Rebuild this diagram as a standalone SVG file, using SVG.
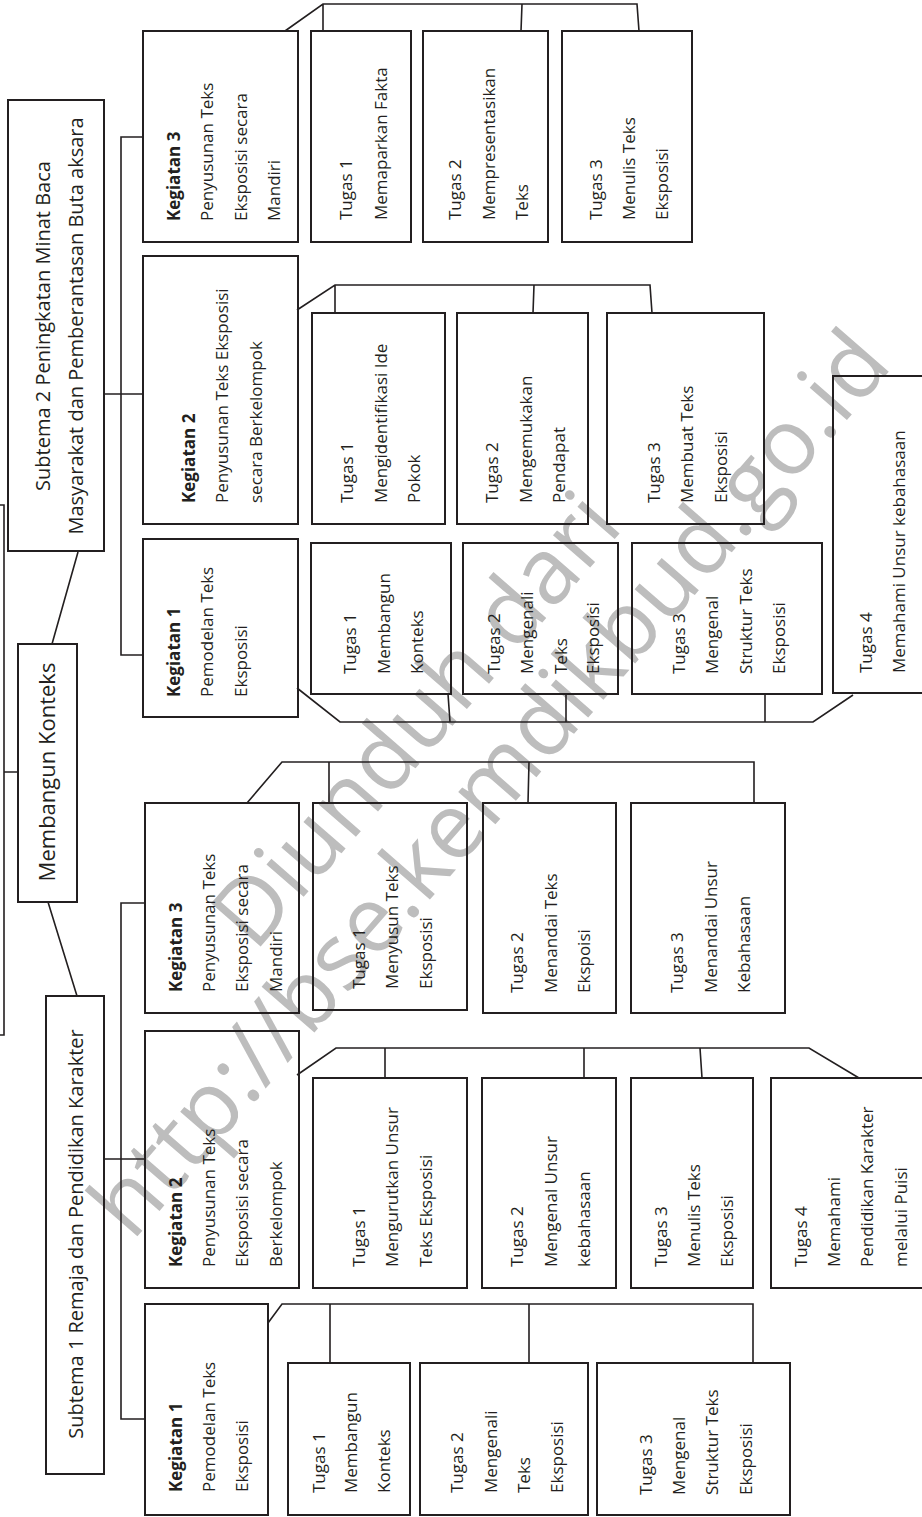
<svg xmlns="http://www.w3.org/2000/svg" width="922" height="1517" viewBox="0 0 922 1517">
<style>
.b{fill:none;stroke:#231f20;stroke-width:2}
.c{fill:none;stroke:#231f20;stroke-width:1.6}
text{font-family:"Open Sans","Noto Sans","Liberation Sans",sans-serif;fill:#231f20}
.t{font-size:17px}
.k{font-weight:bold}
.s{font-size:20px}
.m{font-size:22px}
.w{font-size:92px;fill:#bdbdbd;text-anchor:middle}
</style>
<rect width="922" height="1517" fill="#fff"/>
<g id="watermark" transform="translate(513,804) rotate(-49)">
<text class="w" x="0" y="-97">Diunduh dari</text>
<text class="w" x="0" y="0">http://bse.kemdikbud.go.id</text>
</g>
<g id="connectors">
<path class="c" d="M0,505 H4 V1035 H0 M4,772 H18"/>
<path class="c" d="M78,552 L52,644 M48,902 L77,996"/>
<path class="c" d="M143,137 H121 V655 H143 M104,394 H143"/>
<path class="c" d="M145,903 H121 V1419 H145 M104,1159 H145"/>
<path class="c" d="M285,31 L323,4 H637 L639,31 M323,4 V31 M522,4 L521,31"/>
<path class="c" d="M297,310 L335,285 H650 L652,313 M335,285 V313 M534,285 L533,313"/>
<path class="c" d="M297,688 L340,722 H813 L853,695 M448,694 L450,722 M566,694 V722 M765,694 V722"/>
<path class="c" d="M247,803 L282,762 H754 V803 M329,762 V803 M529,762 L528,803"/>
<path class="c" d="M297,1075 L336,1048 H809 L859,1078 M385,1048 V1078 M584,1048 V1078 M700,1048 L702,1078"/>
<path class="c" d="M268,1323 L282,1304 H753 V1363 M330,1304 V1363 M529,1304 V1363"/>
</g>
<g id="subtema2">
<rect class="b" x="8" y="100" width="96" height="451"/>
<text class="s" text-anchor="middle" transform="translate(50,326) rotate(-90)"><tspan x="0" y="0">Subtema 2 Peningkatan Minat Baca</tspan><tspan x="0" y="33">Masyarakat dan Pemberantasan Buta aksara</tspan></text>
</g>
<g id="membangun">
<rect class="b" x="18" y="644" width="59" height="258"/>
<text class="m" text-anchor="middle" transform="translate(55,772) rotate(-90)">Membangun Konteks</text>
</g>
<g id="subtema1">
<rect class="b" x="46" y="996" width="58" height="478"/>
<text class="s" text-anchor="middle" transform="translate(83,1234) rotate(-90)">Subtema 1 Remaja dan Pendidikan Karakter</text>
</g>
<g id="s2k3">
<rect class="b" x="143" y="31" width="155" height="211"/>
<text class="t" transform="translate(180,221) rotate(-90)"><tspan class="k" x="0" y="0">Kegiatan 3</tspan><tspan x="0" y="33">Penyusunan Teks</tspan><tspan x="0" y="67">Eksposisi secara</tspan><tspan x="0" y="100">Mandiri</tspan></text>
</g>
<g id="s2k2">
<rect class="b" x="143" y="256" width="155" height="268"/>
<text class="t" transform="translate(195,503) rotate(-90)"><tspan class="k" x="0" y="0">Kegiatan 2</tspan><tspan x="0" y="33">Penyusunan Teks Eksposisi</tspan><tspan x="0" y="67">secara Berkelompok</tspan></text>
</g>
<g id="s2k1">
<rect class="b" x="143" y="539" width="155" height="178"/>
<text class="t" transform="translate(180,697) rotate(-90)"><tspan class="k" x="0" y="0">Kegiatan 1</tspan><tspan x="0" y="33">Pemodelan Teks</tspan><tspan x="0" y="67">Eksposisi</tspan></text>
</g>
<g id="s2k3t1">
<rect class="b" x="311" y="31" width="100" height="211"/>
<text class="t" transform="translate(352,220) rotate(-90)"><tspan x="0" y="0">Tugas 1</tspan><tspan x="0" y="35">Memaparkan Fakta</tspan></text>
</g>
<g id="s2k3t2">
<rect class="b" x="423" y="31" width="125" height="211"/>
<text class="t" transform="translate(461,220) rotate(-90)"><tspan x="0" y="0">Tugas 2</tspan><tspan x="0" y="34">Mempresentasikan</tspan><tspan x="0" y="67">Teks</tspan></text>
</g>
<g id="s2k3t3">
<rect class="b" x="562" y="31" width="130" height="211"/>
<text class="t" transform="translate(602,220) rotate(-90)"><tspan x="0" y="0">Tugas 3</tspan><tspan x="0" y="33">Menulis Teks</tspan><tspan x="0" y="66">Eksposisi</tspan></text>
</g>
<g id="s2k2t1">
<rect class="b" x="312" y="313" width="133" height="211"/>
<text class="t" transform="translate(353,503) rotate(-90)"><tspan x="0" y="0">Tugas 1</tspan><tspan x="0" y="34">Mengidentifikasi Ide</tspan><tspan x="0" y="67">Pokok</tspan></text>
</g>
<g id="s2k2t2">
<rect class="b" x="457" y="313" width="131" height="211"/>
<text class="t" transform="translate(498,503) rotate(-90)"><tspan x="0" y="0">Tugas 2</tspan><tspan x="0" y="34">Mengemukakan</tspan><tspan x="0" y="67">Pendapat</tspan></text>
</g>
<g id="s2k2t3">
<rect class="b" x="607" y="313" width="157" height="211"/>
<text class="t" transform="translate(660,503) rotate(-90)"><tspan x="0" y="0">Tugas 3</tspan><tspan x="0" y="33">Membuat Teks</tspan><tspan x="0" y="67">Eksposisi</tspan></text>
</g>
<g id="s2k1t1">
<rect class="b" x="311" y="543" width="140" height="151"/>
<text class="t" transform="translate(356,674) rotate(-90)"><tspan x="0" y="0">Tugas 1</tspan><tspan x="0" y="34">Membangun</tspan><tspan x="0" y="67">Konteks</tspan></text>
</g>
<g id="s2k1t2">
<rect class="b" x="463" y="543" width="155" height="151"/>
<text class="t" transform="translate(500,674) rotate(-90)"><tspan x="0" y="0">Tugas 2</tspan><tspan x="0" y="33">Mengenali</tspan><tspan x="0" y="67">Teks</tspan><tspan x="0" y="99">Eksposisi</tspan></text>
</g>
<g id="s2k1t3">
<rect class="b" x="632" y="543" width="190" height="151"/>
<text class="t" transform="translate(685,674) rotate(-90)"><tspan x="0" y="0">Tugas 3</tspan><tspan x="0" y="33">Mengenal</tspan><tspan x="0" y="67">Struktur Teks</tspan><tspan x="0" y="100">Eksposisi</tspan></text>
</g>
<g id="s2k1t4">
<rect class="b" x="833" y="376" width="100" height="317"/>
<text class="t" transform="translate(872,673) rotate(-90)"><tspan x="0" y="0">Tugas 4</tspan><tspan x="0" y="33">Memahami Unsur kebahasaan</tspan></text>
</g>
<g id="s1k3">
<rect class="b" x="145" y="803" width="154" height="210"/>
<text class="t" transform="translate(182,992) rotate(-90)"><tspan class="k" x="0" y="0">Kegiatan 3</tspan><tspan x="0" y="33">Penyusunan Teks</tspan><tspan x="0" y="66">Eksposisi secara</tspan><tspan x="0" y="100">Mandiri</tspan></text>
</g>
<g id="s1k2">
<rect class="b" x="145" y="1031" width="154" height="257"/>
<text class="t" transform="translate(182,1267) rotate(-90)"><tspan class="k" x="0" y="0">Kegiatan 2</tspan><tspan x="0" y="33">Penyusunan Teks</tspan><tspan x="0" y="66">Eksposisi secara</tspan><tspan x="0" y="100">Berkelompok</tspan></text>
</g>
<g id="s1k1">
<rect class="b" x="145" y="1304" width="123" height="211"/>
<text class="t" transform="translate(182,1492) rotate(-90)"><tspan class="k" x="0" y="0">Kegiatan 1</tspan><tspan x="0" y="33">Pemodelan Teks</tspan><tspan x="0" y="66">Eksposisi</tspan></text>
</g>
<g id="s1k3t1">
<rect class="b" x="313" y="803" width="154" height="207"/>
<text class="t" transform="translate(365,989) rotate(-90)"><tspan x="0" y="0">Tugas 1</tspan><tspan x="0" y="33">Menyusun Teks</tspan><tspan x="0" y="67">Eksposisi</tspan></text>
</g>
<g id="s1k3t2">
<rect class="b" x="483" y="803" width="133" height="210"/>
<text class="t" transform="translate(523,993) rotate(-90)"><tspan x="0" y="0">Tugas 2</tspan><tspan x="0" y="34">Menandai Teks</tspan><tspan x="0" y="67">Ekspoisi</tspan></text>
</g>
<g id="s1k3t3">
<rect class="b" x="631" y="803" width="154" height="210"/>
<text class="t" transform="translate(683,993) rotate(-90)"><tspan x="0" y="0">Tugas 3</tspan><tspan x="0" y="34">Menandai Unsur</tspan><tspan x="0" y="67">Kebahasaan</tspan></text>
</g>
<g id="s1k2t1">
<rect class="b" x="313" y="1078" width="154" height="210"/>
<text class="t" transform="translate(365,1267) rotate(-90)"><tspan x="0" y="0">Tugas 1</tspan><tspan x="0" y="33">Mengurutkan Unsur</tspan><tspan x="0" y="67">Teks Eksposisi</tspan></text>
</g>
<g id="s1k2t2">
<rect class="b" x="482" y="1078" width="134" height="210"/>
<text class="t" transform="translate(523,1267) rotate(-90)"><tspan x="0" y="0">Tugas 2</tspan><tspan x="0" y="34">Mengenal Unsur</tspan><tspan x="0" y="67">kebahasaan</tspan></text>
</g>
<g id="s1k2t3">
<rect class="b" x="631" y="1078" width="122" height="210"/>
<text class="t" transform="translate(667,1267) rotate(-90)"><tspan x="0" y="0">Tugas 3</tspan><tspan x="0" y="33">Menulis Teks</tspan><tspan x="0" y="66">Eksposisi</tspan></text>
</g>
<g id="s1k2t4">
<rect class="b" x="771" y="1078" width="160" height="210"/>
<text class="t" transform="translate(807,1267) rotate(-90)"><tspan x="0" y="0">Tugas 4</tspan><tspan x="0" y="33">Memahami</tspan><tspan x="0" y="66">Pendidikan Karakter</tspan><tspan x="0" y="100">melalui Puisi</tspan></text>
</g>
<g id="s1k1t1">
<rect class="b" x="288" y="1363" width="122" height="152"/>
<text class="t" transform="translate(325,1493) rotate(-90)"><tspan x="0" y="0">Tugas 1</tspan><tspan x="0" y="32">Membangun</tspan><tspan x="0" y="65">Konteks</tspan></text>
</g>
<g id="s1k1t2">
<rect class="b" x="420" y="1363" width="168" height="152"/>
<text class="t" transform="translate(463,1493) rotate(-90)"><tspan x="0" y="0">Tugas 2</tspan><tspan x="0" y="34">Mengenali</tspan><tspan x="0" y="67">Teks</tspan><tspan x="0" y="100">Eksposisi</tspan></text>
</g>
<g id="s1k1t3">
<rect class="b" x="597" y="1363" width="193" height="152"/>
<text class="t" transform="translate(652,1495) rotate(-90)"><tspan x="0" y="0">Tugas 3</tspan><tspan x="0" y="33">Mengenal</tspan><tspan x="0" y="66">Struktur Teks</tspan><tspan x="0" y="100">Eksposisi</tspan></text>
</g>
</svg>
